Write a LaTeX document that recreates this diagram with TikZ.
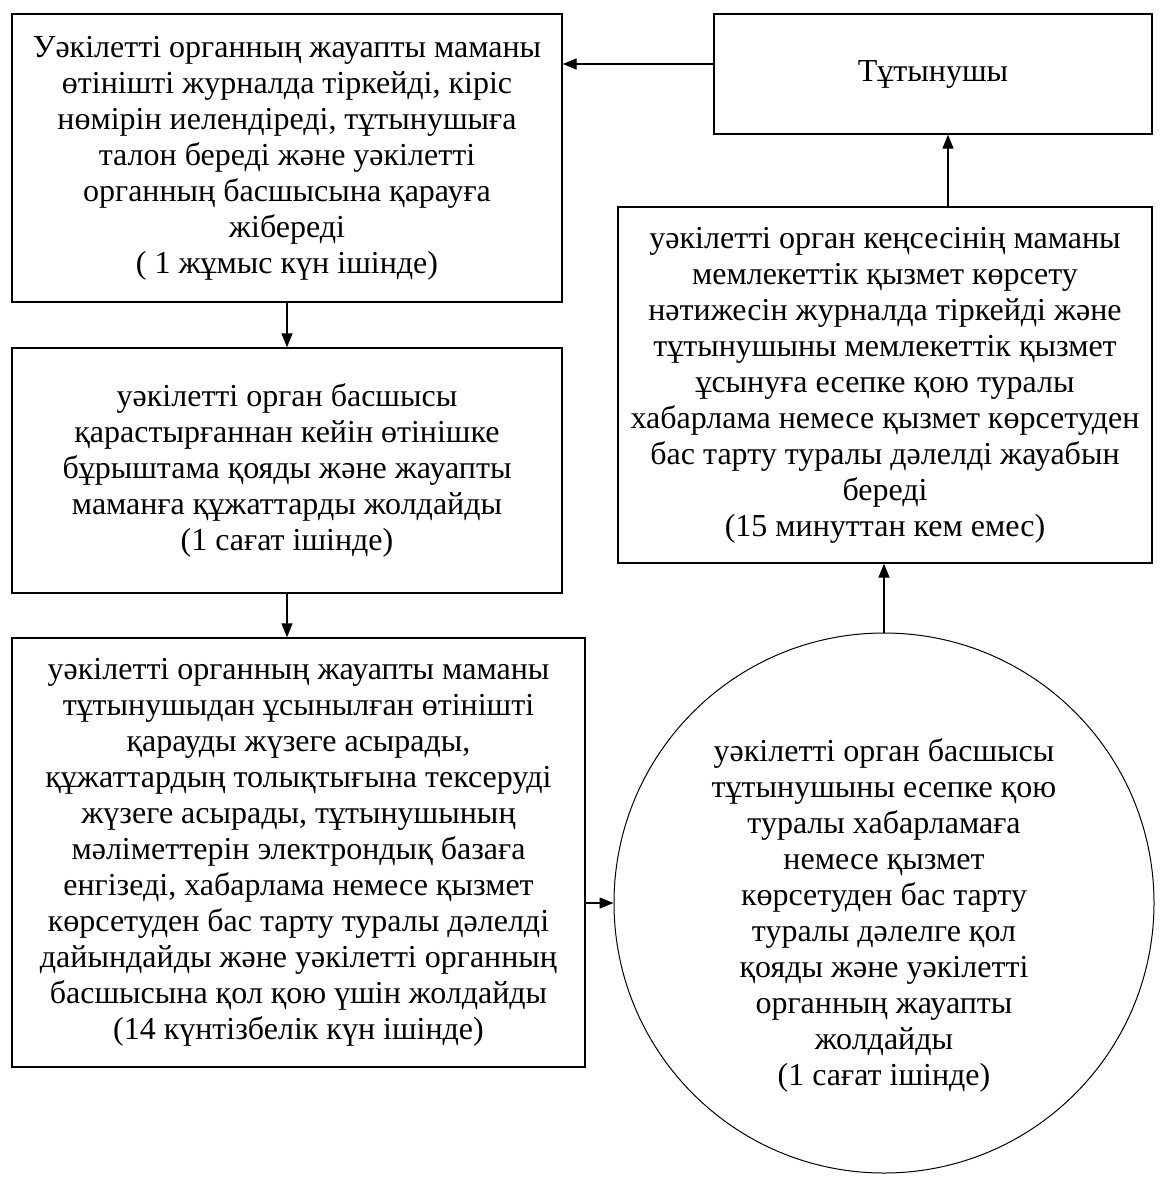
\documentclass[tikz,border=0pt]{standalone}
\usepackage{fontspec}
\setmainfont{Liberation Serif}
\usetikzlibrary{arrows.meta}
\begin{document}
\begin{tikzpicture}[x=1pt,y=-1pt,
  every node/.style={font=\fontsize{32}{36}\selectfont},
  box/.style={draw,line width=1.4pt,align=center,inner sep=0pt},
  conn/.style={line width=1.4pt,-{Triangle[length=14pt,width=11pt]}}]
\useasboundingbox (0,0) rectangle (1161,1191);
\node[box,minimum width=550,minimum height=288] (A) at (287,158) {Уәкілетті органның жауапты маманы\\өтінішті журналда тіркейді, кіріс\\нөмірін иелендіреді, тұтынушыға\\талон береді және уәкілетті\\органның басшысына қарауға\\жібереді\\( 1 жұмыс күн ішінде)};
\node[box,minimum width=438,minimum height=120] (T) at (933,74) {Тұтынушы};
\node[box,minimum width=550,minimum height=245] (B) at (287,470.5) {уәкілетті орган басшысы\\қарастырғаннан кейін өтінішке\\бұрыштама қояды және жауапты\\маманға құжаттарды жолдайды\\(1 сағат ішінде)};
\node[box,minimum width=573,minimum height=429] (C) at (298.5,852.5) {уәкілетті органның жауапты маманы\\тұтынушыдан ұсынылған өтінішті\\қарауды жүзеге асырады,\\құжаттардың толықтығына тексеруді\\жүзеге асырады, тұтынушының\\мәліметтерін электрондық базаға\\енгізеді, хабарлама немесе қызмет\\көрсетуден бас тарту туралы дәлелді\\дайындайды және уәкілетті органның\\басшысына қол қою үшін жолдайды\\(14 күнтізбелік күн ішінде)};
\node[box,minimum width=534,minimum height=356] (D) at (885,385) {уәкілетті орган кеңсесінің маманы\\мемлекеттік қызмет көрсету\\нәтижесін журналда тіркейді және\\тұтынушыны мемлекеттік қызмет\\ұсынуға есепке қою туралы\\хабарлама немесе қызмет көрсетуден\\бас тарту туралы дәлелді жауабын\\береді\\(15 минуттан кем емес)};
\node[box,circle,line width=1pt,minimum size=540] (E) at (884,903) {};
\node (Et) at (884,915) [align=center] {уәкілетті орган басшысы\\тұтынушыны есепке қою\\туралы хабарламаға\\немесе қызмет\\көрсетуден бас тарту\\туралы дәлелге қол\\қояды және уәкілетті\\органның жауапты\\жолдайды\\(1 сағат ішінде)};
\draw[conn] ([yshift=10pt]T.west) -- ([yshift=10pt]T.west -| A.east);
\draw[conn] (A.south) -- (B.north);
\draw[conn] (B.south) -- (B.south |- C.north);
\draw[conn] (E.west -| C.east) -- (E.west);
\draw[conn] (E.north) -- (E.north |- D.south);
\draw[conn] ([xshift=63pt]D.north) -- ([xshift=63pt]D.north |- T.south);
\end{tikzpicture}
\end{document}
